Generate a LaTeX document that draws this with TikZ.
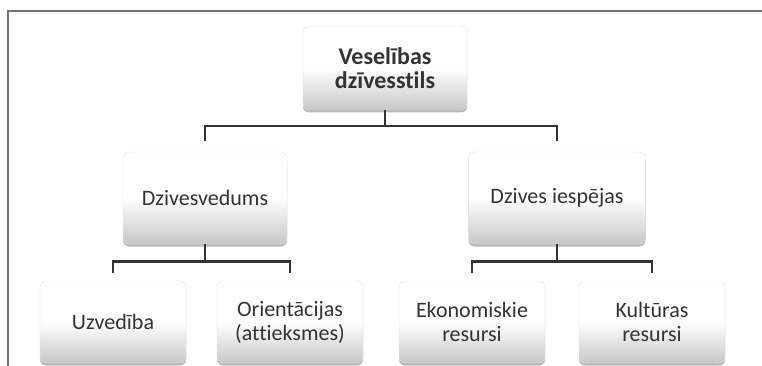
\documentclass[tikz,border=0pt]{standalone}
\usepackage{fontspec}
\setmainfont[Ligatures=NoCommon]{Carlito}
\usetikzlibrary{shadows}

\begin{document}
\begin{tikzpicture}[x=1pt,y=1pt,line join=miter,
            box/.style={rectangle,rounded corners=6pt,draw=black!12,
                top color=white,bottom color=black!22,middle color=white,
                drop shadow={shadow xshift=0pt,shadow yshift=-2.5pt,opacity=0.5,fill=black!55},
                text=black!80,align=center,inner sep=0pt,
                font=\fontsize{22}{24}\selectfont},
            mid/.style={box,minimum height=92pt},
            leaf/.style={box,minimum width=146pt,minimum height=82pt},
            link/.style={draw=black!80,line width=2.6pt}]
        \useasboundingbox (0,0) rectangle (762,-366);

        % frame of the scan
        \draw[black!55,line width=1.5pt] (8,-366) -- (8,-11) -- (762,-11);

        \node[box,minimum width=164pt,minimum height=84pt,
              font=\fontsize{24}{24}\selectfont\bfseries] (vd) at (385,-68)
            {Veselības\\dzīvesstils};

        \node[mid,minimum width=164pt] (dzv) at (205,-198) {Dzivesvedums};
        \node[mid,minimum width=177pt] (dzi) at (557,-198) {Dzives iespējas};

        \node[leaf] (uzv) at (113,-322) {Uzvedība};
        \node[leaf] (ori) at (290,-322) {Orientācijas\\(attieksmes)};
        \node[leaf] (eko) at (472,-322) {Ekonomiskie\\resursi};
        \node[leaf] (kul) at (652,-322) {Kultūras\\resursi};

        \draw[link,shorten >=11pt] (vd.south) -- ++(0,-16) -| (dzv.north);
        \draw[link,shorten >=11pt] (vd.south) -- ++(0,-16) -| (dzi.north);
        \draw[link,shorten >=8pt] (dzv.south) -- ++(0,-17) -| (uzv.north);
        \draw[link,shorten >=8pt] (dzv.south) -- ++(0,-17) -| (ori.north);
        \draw[link,shorten >=8pt] (dzi.south) -- ++(0,-17) -| (eko.north);
        \draw[link,shorten >=8pt] (dzi.south) -- ++(0,-17) -| (kul.north);
\end{tikzpicture}
\end{document}
